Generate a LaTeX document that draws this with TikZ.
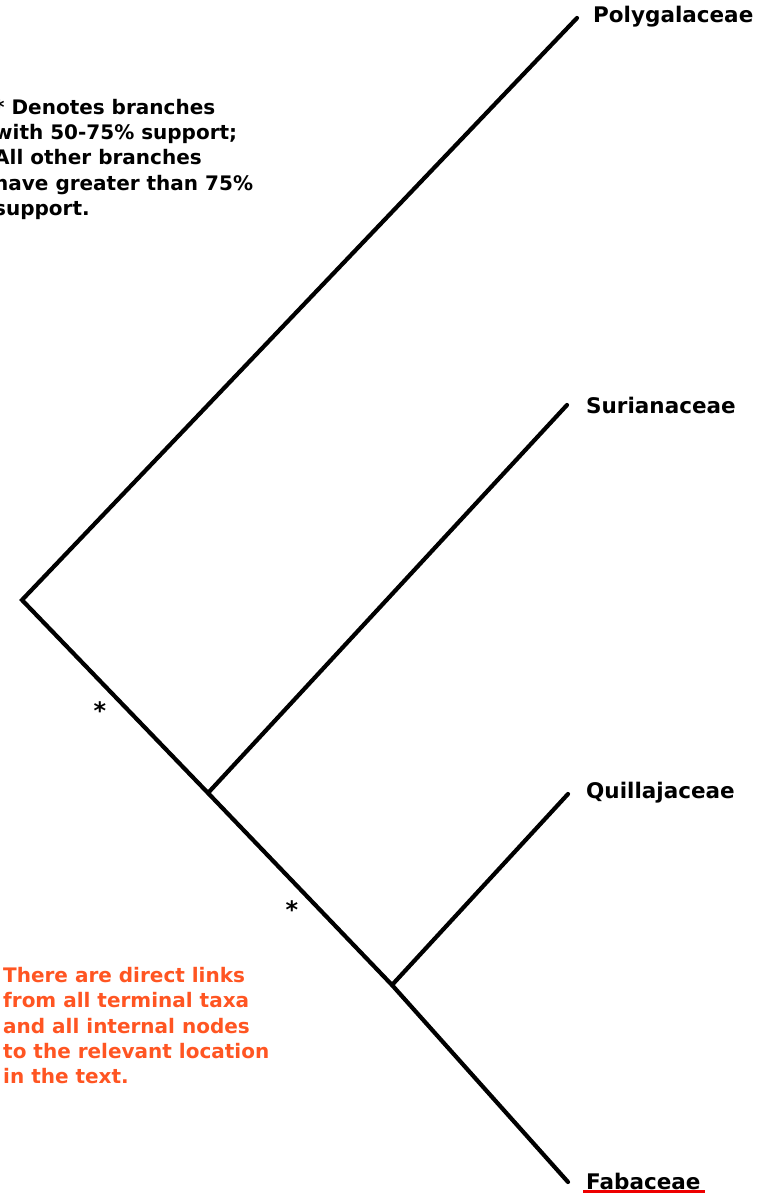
\documentclass[tikz,border=0pt]{standalone}
\usepackage{fontspec}
\setmainfont{DejaVu Sans}
\definecolor{noteorange}{HTML}{FF5522}
\definecolor{linkred}{HTML}{EE0000}
\begin{document}
\begin{tikzpicture}[x=1pt,y=-1pt,
  branch/.style={line width=4.2pt,line cap=round,line join=miter},
  taxon/.style={anchor=west,inner sep=0pt,font=\bfseries\fontsize{21.5}{24}\selectfont},
  star/.style={inner sep=0pt,font=\bfseries\fontsize{24}{26}\selectfont},
  note/.style={anchor=north west,inner sep=0pt,align=left,font=\bfseries\fontsize{20}{25.3}\selectfont}]
\useasboundingbox (0,0) rectangle (762,1194);
\clip (0,0) rectangle (762,1194);
\coordinate (root) at (22,600);
\coordinate (nA) at (208,793);
\coordinate (nB) at (392,985);
\coordinate (tP) at (577,18);
\coordinate (tS) at (567,405);
\coordinate (tQ) at (568,794);
\coordinate (tF) at (568,1182);
\draw[branch] (tP) -- (root) -- (nA) -- (nB) -- (tF);
\draw[branch] (nA) -- (tS);
\draw[branch] (nB) -- (tQ);
\node[taxon] (lP) at (593,17) {Polygalaceae};
\node[taxon] (lS) at (586,405) {Surianaceae};
\node[taxon] (lQ) at (586,793) {Quillajaceae};
\node[taxon] (lF) at (586,1181) {Fabaceae};
\draw[linkred,line width=3pt] ([yshift=-1.5pt,xshift=-3pt]lF.south west) -- ([yshift=-1.5pt,xshift=4pt]lF.south east);
\node[star] (s1) at (100,711) {*};
\node[star] (s2) at (292,910) {*};
\node[note] (key) at (-6,99) {* Denotes branches\\with 50-75\% support;\\All other branches\\have greater than 75\%\\support.};
\node[note,text=noteorange] (links) at (3,967) {There are direct links\\from all terminal taxa\\and all internal nodes\\to the relevant location\\in the text.};
\end{tikzpicture}
\end{document}
